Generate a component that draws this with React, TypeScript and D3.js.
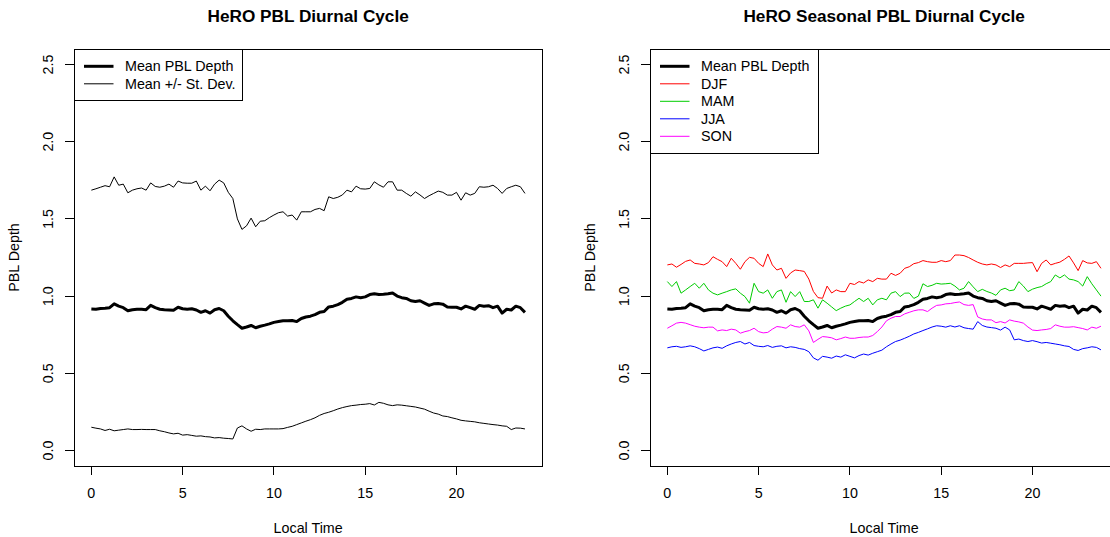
import React from "react";
import * as d3 from "d3";

// ---- data ----
const TIME: number[] = d3.range(96).map((i) => i * 0.25); // local time, 15-min steps

const MEAN = [
  0.917, 0.915, 0.920, 0.922, 0.925, 0.950, 0.935, 0.925, 0.905, 0.912, 0.915, 0.915, 0.912, 0.940, 0.925, 0.915,
  0.912, 0.910, 0.908, 0.928, 0.918, 0.915, 0.918, 0.910, 0.895, 0.905, 0.890, 0.912, 0.920, 0.905, 0.870, 0.840,
  0.815, 0.792, 0.800, 0.810, 0.795, 0.805, 0.812, 0.820, 0.830, 0.835, 0.840, 0.840, 0.842, 0.835, 0.855, 0.865,
  0.870, 0.880, 0.895, 0.900, 0.930, 0.935, 0.945, 0.960, 0.980, 0.985, 0.995, 0.990, 0.995, 1.010, 1.015, 1.010,
  1.012, 1.015, 1.020, 1.000, 0.990, 0.985, 0.970, 0.965, 0.970, 0.955, 0.940, 0.950, 0.952, 0.948, 0.930, 0.928,
  0.928, 0.917, 0.935, 0.925, 0.915, 0.940, 0.935, 0.938, 0.925, 0.935, 0.890, 0.915, 0.910, 0.935, 0.925, 0.895,
];

const UPPER = [
  1.686, 1.695, 1.705, 1.715, 1.708, 1.772, 1.718, 1.725, 1.669, 1.686, 1.695, 1.700, 1.686, 1.733, 1.710, 1.705,
  1.712, 1.725, 1.705, 1.745, 1.733, 1.731, 1.731, 1.745, 1.686, 1.712, 1.682, 1.725, 1.751, 1.733, 1.672, 1.632,
  1.500, 1.432, 1.455, 1.505, 1.449, 1.485, 1.488, 1.508, 1.525, 1.540, 1.546, 1.518, 1.525, 1.492, 1.546, 1.546,
  1.546, 1.561, 1.568, 1.553, 1.643, 1.632, 1.640, 1.655, 1.686, 1.675, 1.712, 1.695, 1.693, 1.697, 1.740, 1.720,
  1.705, 1.740, 1.740, 1.686, 1.686, 1.665, 1.647, 1.675, 1.655, 1.632, 1.650, 1.665, 1.680, 1.672, 1.654, 1.654,
  1.672, 1.621, 1.669, 1.654, 1.665, 1.708, 1.705, 1.708, 1.718, 1.697, 1.665, 1.697, 1.708, 1.718, 1.708, 1.665,
];

const LOWER = [
  0.151, 0.145, 0.140, 0.130, 0.138, 0.128, 0.132, 0.136, 0.140, 0.136, 0.136, 0.137, 0.136, 0.136, 0.136, 0.128,
  0.122, 0.114, 0.108, 0.112, 0.100, 0.103, 0.098, 0.093, 0.095, 0.090, 0.088, 0.082, 0.084, 0.080, 0.078, 0.075,
  0.146, 0.160, 0.140, 0.125, 0.138, 0.136, 0.140, 0.140, 0.140, 0.140, 0.142, 0.150, 0.157, 0.168, 0.179, 0.190,
  0.200, 0.212, 0.228, 0.240, 0.248, 0.258, 0.269, 0.278, 0.285, 0.291, 0.294, 0.298, 0.300, 0.304, 0.295, 0.312,
  0.306, 0.296, 0.291, 0.296, 0.294, 0.290, 0.286, 0.282, 0.275, 0.268, 0.255, 0.243, 0.236, 0.224, 0.220, 0.212,
  0.205, 0.196, 0.192, 0.189, 0.186, 0.180, 0.176, 0.172, 0.168, 0.165, 0.160, 0.157, 0.136, 0.146, 0.145, 0.140,
];

const DJF = [
  1.202, 1.208, 1.187, 1.205, 1.225, 1.234, 1.212, 1.208, 1.202, 1.217, 1.255, 1.238, 1.223, 1.191, 1.245, 1.212,
  1.174, 1.223, 1.251, 1.245, 1.212, 1.191, 1.273, 1.202, 1.169, 1.180, 1.115, 1.150, 1.169, 1.165, 1.160, 1.110,
  1.030, 0.990, 0.986, 1.065, 1.020, 1.040, 1.029, 1.029, 1.083, 1.075, 1.094, 1.085, 1.105, 1.094, 1.115, 1.110,
  1.110, 1.148, 1.134, 1.148, 1.180, 1.190, 1.210, 1.217, 1.230, 1.223, 1.219, 1.219, 1.230, 1.223, 1.230, 1.266,
  1.266, 1.262, 1.250, 1.234, 1.219, 1.208, 1.202, 1.208, 1.202, 1.185, 1.202, 1.191, 1.212, 1.212, 1.212, 1.215,
  1.217, 1.158, 1.212, 1.234, 1.202, 1.212, 1.220, 1.238, 1.260, 1.215, 1.165, 1.230, 1.215, 1.212, 1.223, 1.180,
];

const MAM = [
  1.094, 1.062, 1.094, 1.019, 1.040, 1.062, 1.083, 1.051, 1.083, 1.040, 1.019, 1.008, 1.019, 1.029, 1.040, 1.047,
  1.019, 0.997, 0.954, 1.083, 1.029, 1.019, 1.040, 0.986, 1.029, 1.040, 0.960, 1.029, 0.997, 1.029, 0.965, 0.965,
  0.976, 0.922, 0.976, 0.954, 0.930, 0.906, 0.922, 0.935, 0.943, 0.965, 0.986, 0.965, 0.986, 0.943, 0.976, 0.986,
  0.976, 1.019, 1.029, 0.997, 1.019, 1.020, 0.985, 1.000, 1.080, 1.062, 1.070, 1.083, 1.078, 1.080, 1.083, 1.065,
  1.040, 1.051, 1.094, 1.060, 1.029, 1.044, 1.030, 1.020, 1.005, 1.040, 1.051, 1.035, 1.040, 1.094, 1.065, 1.029,
  1.045, 1.055, 1.062, 1.080, 1.094, 1.137, 1.118, 1.137, 1.110, 1.105, 1.094, 1.065, 1.126, 1.080, 1.040, 1.000,
];

const JJA = [
  0.665, 0.672, 0.675, 0.668, 0.672, 0.678, 0.672, 0.660, 0.645, 0.655, 0.665, 0.670, 0.662, 0.678, 0.690, 0.700,
  0.706, 0.690, 0.700, 0.680, 0.675, 0.672, 0.680, 0.668, 0.675, 0.678, 0.665, 0.672, 0.668, 0.660, 0.655, 0.640,
  0.600, 0.585, 0.610, 0.605, 0.598, 0.612, 0.605, 0.620, 0.610, 0.600, 0.615, 0.625, 0.618, 0.630, 0.640, 0.650,
  0.672, 0.690, 0.706, 0.715, 0.727, 0.740, 0.755, 0.765, 0.777, 0.788, 0.800, 0.808, 0.805, 0.799, 0.808, 0.800,
  0.808, 0.795, 0.790, 0.786, 0.835, 0.810, 0.800, 0.796, 0.792, 0.780, 0.799, 0.781, 0.717, 0.722, 0.712, 0.706,
  0.712, 0.705, 0.696, 0.700, 0.695, 0.690, 0.685, 0.678, 0.674, 0.655, 0.648, 0.660, 0.665, 0.672, 0.668, 0.652,
];

const SON = [
  0.792, 0.808, 0.825, 0.830, 0.825, 0.815, 0.805, 0.799, 0.795, 0.799, 0.799, 0.775, 0.781, 0.777, 0.786, 0.781,
  0.760, 0.770, 0.777, 0.792, 0.770, 0.762, 0.765, 0.786, 0.803, 0.799, 0.792, 0.814, 0.803, 0.799, 0.814, 0.775,
  0.700, 0.720, 0.738, 0.735, 0.730, 0.717, 0.725, 0.735, 0.727, 0.727, 0.732, 0.735, 0.735, 0.745, 0.770, 0.800,
  0.840, 0.857, 0.868, 0.868, 0.885, 0.895, 0.905, 0.911, 0.911, 0.900, 0.922, 0.940, 0.943, 0.950, 0.952, 0.958,
  0.962, 0.945, 0.940, 0.945, 0.865, 0.852, 0.846, 0.846, 0.828, 0.835, 0.826, 0.846, 0.838, 0.833, 0.825, 0.800,
  0.780, 0.777, 0.781, 0.784, 0.790, 0.814, 0.805, 0.799, 0.799, 0.802, 0.796, 0.790, 0.781, 0.799, 0.792, 0.805,
];

const X_TICKS = [0, 5, 10, 15, 20];
const Y_TICKS = [0, 0.5, 1.0, 1.5, 2.0, 2.5];
const Y_LIM = [0, 2.5];

const TITLE_LEFT = "HeRO PBL Diurnal Cycle";
const TITLE_RIGHT = "HeRO Seasonal PBL Diurnal Cycle";
const X_LABEL = "Local Time";
const Y_LABEL = "PBL Depth";

// ---- layout ----
const W = 1110;
const H = 537;
const PLOT_W = 468.3;
const TOP = 49;
const BOTTOM = 466;
const FONT = "'Liberation Sans', Arial, Helvetica, sans-serif";
const FS = 14.3;

type S = { values: number[]; color: string; width: number; label?: string };

function Panel({
  left,
  title,
  series,
  legend,
}: {
  left: number;
  title: string;
  series: S[];
  legend: { label: string; color: string; width: number }[];
}) {
  const xmin = d3.min(TIME) as number;
  const xmax = d3.max(TIME) as number;
  const xpad = (xmax - xmin) * 0.04;
  const ypad = (Y_LIM[1] - Y_LIM[0]) * 0.04;
  const x = d3.scaleLinear().domain([xmin - xpad, xmax + xpad]).range([left, left + PLOT_W]);
  const y = d3.scaleLinear().domain([Y_LIM[0] - ypad, Y_LIM[1] + ypad]).range([BOTTOM, TOP]);
  const line = (vals: number[]) =>
    d3
      .line<number>()
      .x((_, i) => x(TIME[i]))
      .y((v) => y(v))(vals) as string;

  const cx = left + PLOT_W / 2;
  const rowH = 17.5;
  const legW = 168;
  const legH = 17.3 + (legend.length - 1) * rowH + 16.5;

  return (
    <g>
      <text x={cx} y={22} textAnchor="middle" fontFamily={FONT} fontWeight="bold" fontSize={17.2} fill="#000">
        {title}
      </text>
      {series.map((s, i) => (
        <path key={i} d={line(s.values)} fill="none" stroke={s.color} strokeWidth={s.width} strokeLinejoin="round" />
      ))}
      {/* box */}
      <rect x={left + 0.5} y={TOP + 0.5} width={PLOT_W} height={BOTTOM - TOP} fill="none" stroke="#000" strokeWidth={1} shapeRendering="crispEdges" />
      {/* x axis */}
      {X_TICKS.map((t) => (
        <g key={"x" + t}>
          <line x1={x(t)} x2={x(t)} y1={BOTTOM} y2={BOTTOM + 9} stroke="#000" strokeWidth={1} shapeRendering="crispEdges" />
          <text x={x(t)} y={BOTTOM + 31.5} textAnchor="middle" fontFamily={FONT} fontSize={FS} fill="#000">
            {t}
          </text>
        </g>
      ))}
      {/* y axis */}
      {Y_TICKS.map((t) => (
        <g key={"y" + t}>
          <line x1={left - 9} x2={left} y1={y(t)} y2={y(t)} stroke="#000" strokeWidth={1} shapeRendering="crispEdges" />
          <text
            transform={`translate(${left - 21.5},${y(t)}) rotate(-90)`}
            textAnchor="middle"
            fontFamily={FONT}
            fontSize={FS}
            fill="#000"
          >
            {t.toFixed(1)}
          </text>
        </g>
      ))}
      <text x={cx} y={533} textAnchor="middle" fontFamily={FONT} fontSize={FS} fill="#000">
        {X_LABEL}
      </text>
      <text transform={`translate(${left - 55},${(TOP + BOTTOM) / 2}) rotate(-90)`} textAnchor="middle" fontFamily={FONT} fontSize={FS} fill="#000">
        {Y_LABEL}
      </text>
      {/* legend */}
      <rect x={left + 0.5} y={TOP + 0.5} width={legW} height={legH} fill="#fff" stroke="#000" strokeWidth={1} shapeRendering="crispEdges" />
      {legend.map((l, i) => {
        const ry = TOP + 17.3 + i * rowH;
        return (
          <g key={l.label}>
            <line x1={left + 10} x2={left + 39.5} y1={ry} y2={ry} stroke={l.color} strokeWidth={l.width} />
            <text x={left + 51} y={ry + 5} fontFamily={FONT} fontSize={FS} fill="#000">
              {l.label}
            </text>
          </g>
        );
      })}
    </g>
  );
}

export default function App() {
  return (
    <svg width={W} height={H} style={{ position: "fixed", left: 0, top: 0, background: "#fff" }}>
      <rect x={0} y={0} width={W} height={H} fill="#fff" />
      <Panel
        left={74}
        title={TITLE_LEFT}
        series={[
          { values: UPPER, color: "#000", width: 1 },
          { values: LOWER, color: "#000", width: 1 },
          { values: MEAN, color: "#000", width: 3 },
        ]}
        legend={[
          { label: "Mean PBL Depth", color: "#000", width: 3 },
          { label: "Mean +/- St. Dev.", color: "#000", width: 1 },
        ]}
      />
      <Panel
        left={650}
        title={TITLE_RIGHT}
        series={[
          { values: DJF, color: "#FF0000", width: 1 },
          { values: MAM, color: "#00CD00", width: 1 },
          { values: JJA, color: "#0000FF", width: 1 },
          { values: SON, color: "#FF00FF", width: 1 },
          { values: MEAN, color: "#000", width: 3 },
        ]}
        legend={[
          { label: "Mean PBL Depth", color: "#000", width: 3 },
          { label: "DJF", color: "#FF0000", width: 1 },
          { label: "MAM", color: "#00CD00", width: 1 },
          { label: "JJA", color: "#0000FF", width: 1 },
          { label: "SON", color: "#FF00FF", width: 1 },
        ]}
      />
    </svg>
  );
}
